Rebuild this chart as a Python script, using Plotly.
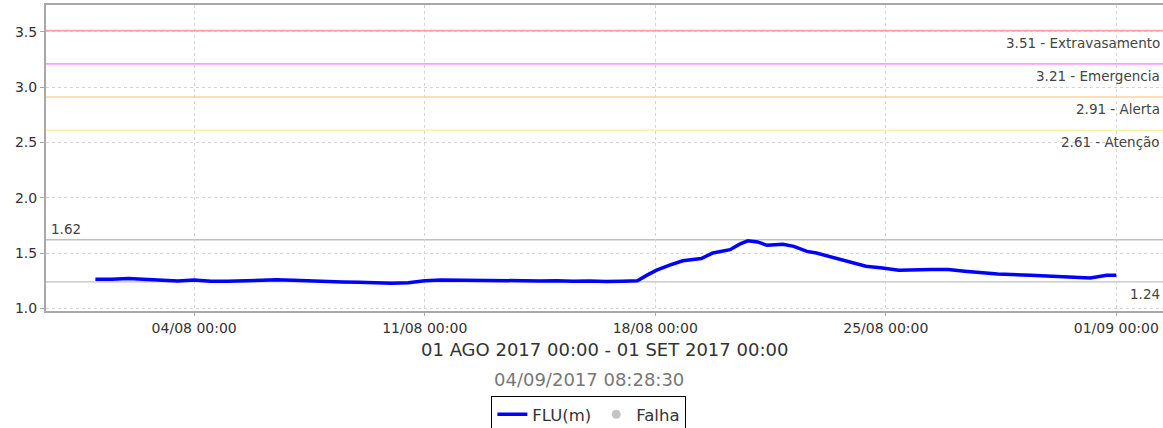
import plotly.graph_objects as go

# ---- data ----
times = [
    "2017-08-01 00:00", "2017-08-01 12:00", "2017-08-02 00:00", "2017-08-02 12:00",
    "2017-08-03 00:00", "2017-08-03 12:00", "2017-08-04 00:00", "2017-08-04 12:00",
    "2017-08-05 00:00", "2017-08-05 12:00", "2017-08-06 00:00", "2017-08-06 12:00",
    "2017-08-07 00:00", "2017-08-07 12:00", "2017-08-08 00:00", "2017-08-08 12:00",
    "2017-08-09 00:00", "2017-08-09 12:00", "2017-08-10 00:00", "2017-08-10 12:00",
    "2017-08-11 00:00", "2017-08-11 12:00", "2017-08-12 00:00", "2017-08-12 12:00",
    "2017-08-13 00:00", "2017-08-13 12:00", "2017-08-14 00:00", "2017-08-14 12:00",
    "2017-08-15 00:00", "2017-08-15 12:00", "2017-08-16 00:00", "2017-08-16 12:00",
    "2017-08-17 00:00", "2017-08-17 11:00", "2017-08-17 18:00", "2017-08-18 01:00",
    "2017-08-18 10:30", "2017-08-18 20:00", "2017-08-19 09:30", "2017-08-19 18:00",
    "2017-08-20 06:30", "2017-08-20 13:30", "2017-08-20 19:30", "2017-08-21 02:30",
    "2017-08-21 09:30", "2017-08-21 21:00", "2017-08-22 05:00", "2017-08-22 14:30",
    "2017-08-22 21:30", "2017-08-23 09:30", "2017-08-23 21:30", "2017-08-24 09:30",
    "2017-08-24 21:30", "2017-08-25 09:30", "2017-08-26 09:30", "2017-08-26 21:30",
    "2017-08-27 09:30", "2017-08-28 09:30", "2017-08-29 09:30", "2017-08-30 09:30",
    "2017-08-31 05:00", "2017-08-31 17:00", "2017-09-01 00:00",
]
flu = [
    1.262, 1.262, 1.270, 1.262,
    1.255, 1.248, 1.256, 1.245,
    1.245, 1.250, 1.255, 1.258,
    1.255, 1.248, 1.240, 1.238,
    1.235, 1.228, 1.226, 1.232,
    1.250, 1.256, 1.255, 1.250,
    1.248, 1.245, 1.250, 1.248,
    1.250, 1.245, 1.248, 1.242,
    1.246, 1.250, 1.300, 1.345,
    1.390, 1.430, 1.450, 1.500,
    1.530, 1.580, 1.610, 1.600,
    1.570, 1.580, 1.560, 1.515,
    1.500, 1.460, 1.425, 1.380,
    1.365, 1.345, 1.350, 1.350,
    1.335, 1.310, 1.300, 1.285,
    1.275, 1.300, 1.300,
]

threshold_values = [3.51, 3.21, 2.91, 2.61]
threshold_names = ["Extravasamento", "Emergencia", "Alerta", "Atenção"]
threshold_colors = ["#ff9f9f", "#ff9cff", "#ffcf9f", "#fff0a8"]

max_value = 1.62
min_value = 1.24

x_tick_vals = ["2017-08-04", "2017-08-11", "2017-08-18", "2017-08-25", "2017-09-01"]
x_tick_text = ["04/08 00:00", "11/08 00:00", "18/08 00:00", "25/08 00:00", "01/09 00:00"]
y_tick_vals = [1.0, 1.5, 2.0, 2.5, 3.0, 3.5]

period_title = "01 AGO 2017 00:00 - 01 SET 2017 00:00"
generated_at = "04/09/2017 08:28:30"

FONT = "DejaVu Sans"

fig = go.Figure()

fig.add_trace(go.Scatter(
    x=times, y=flu, mode="lines", name="FLU(m)",
    line=dict(color="#0000ff", width=3.5),
))
fig.add_trace(go.Scatter(
    x=[None], y=[None], mode="markers", name="Falha",
    marker=dict(color="#c4c4c4", size=9, symbol="circle"),
))

# threshold lines + labels
for v, n, c in zip(threshold_values, threshold_names, threshold_colors):
    fig.add_shape(type="line", xref="paper", x0=0, x1=1, yref="y", y0=v, y1=v,
                  line=dict(color=c, width=1.6), layer="above")
    fig.add_annotation(xref="paper", x=1, yref="y", y=v, xanchor="right", yanchor="top",
                       text=f"{v:.2f} - {n}", showarrow=False, yshift=-2, xshift=-1,
                       font=dict(family=FONT, size=13.5, color="#444444"))

# max / min lines
for v in (max_value, min_value):
    fig.add_shape(type="line", xref="paper", x0=0, x1=1, yref="y", y0=v, y1=v,
                  line=dict(color="#c0c0c0", width=1.3), layer="below")
fig.add_annotation(xref="paper", x=0, yref="y", y=max_value, xanchor="left", yanchor="bottom",
                   text=f"{max_value:.2f}", showarrow=False, xshift=3, yshift=1,
                   font=dict(family=FONT, size=13.5, color="#444444"))
fig.add_annotation(xref="paper", x=1, yref="y", y=min_value, xanchor="right", yanchor="top",
                   text=f"{min_value:.2f}", showarrow=False, xshift=-1, yshift=-2,
                   font=dict(family=FONT, size=13.5, color="#444444"))

# titles below plot
fig.add_annotation(xref="paper", x=0.5, yref="paper", y=-0.127, yanchor="middle",
                   text=period_title, showarrow=False,
                   font=dict(family=FONT, size=18, color="#333333"))
fig.add_annotation(xref="paper", x=0.486, yref="paper", y=-0.225, yanchor="middle",
                   text=generated_at, showarrow=False,
                   font=dict(family=FONT, size=18, color="#777777"))

fig.update_layout(
    width=1163, height=428,
    margin=dict(l=46, r=0, t=5, b=117, autoexpand=False),
    paper_bgcolor="white", plot_bgcolor="white",
    font=dict(family=FONT, size=14, color="#333333"),
    showlegend=True,
    legend=dict(orientation="h", xanchor="center", x=0.486, yanchor="top", y=-0.278,
                bordercolor="#000000", borderwidth=1, bgcolor="white",
                font=dict(family=FONT, size=16.5, color="#333333"),
                itemwidth=30, tracegroupgap=0),
)

fig.update_xaxes(
    type="date", automargin=False,
    range=["2017-07-30 12:00", "2017-09-02 10:00"],
    tickvals=x_tick_vals, ticktext=x_tick_text,
    showgrid=True, gridcolor="#d4d4d4", griddash="3px,3px", gridwidth=1,
    showline=True, linecolor="#a8a8a8", linewidth=2, mirror=True,
    ticks="outside", ticklen=3, tickcolor="#a8a8a8",
    tickfont=dict(family=FONT, size=14, color="#333333"),
    zeroline=False,
)
fig.update_yaxes(
    range=[0.976, 3.742], automargin=False,
    tickvals=y_tick_vals, tickformat=".1f",
    showgrid=True, gridcolor="#d4d4d4", griddash="3px,3px", gridwidth=1,
    showline=True, linecolor="#a8a8a8", linewidth=2,
    ticks="outside", ticklen=4, tickcolor="#a8a8a8",
    tickfont=dict(family=FONT, size=14, color="#333333"),
    zeroline=False,
)

fig.write_html(
    "out.html",
    config={"displayModeBar": False},
    post_script="document.body.style.margin='0';document.body.style.padding='0';",
)
